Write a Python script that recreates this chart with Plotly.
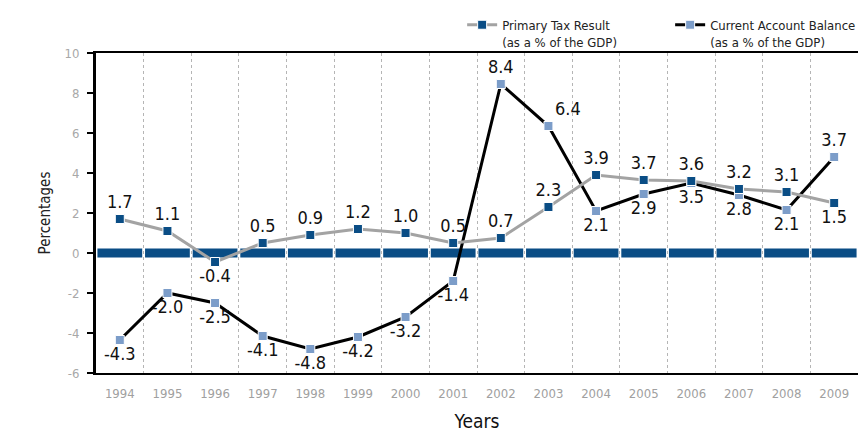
import plotly.graph_objects as go

years = [str(y) for y in range(1994, 2010)]
primary_vals = [1.7, 1.1, -0.45, 0.5, 0.9, 1.2, 1.0, 0.5, 0.75, 2.3, 3.9, 3.65, 3.6, 3.2, 3.05, 2.5]
primary_text = ["1.7", "1.1", "-0.4", "0.5", "0.9", "1.2", "1.0", "0.5", "0.7", "2.3", "3.9", "3.7", "3.6", "3.2", "3.1", "1.5"]
current_vals = [-4.35, -2.0, -2.5, -4.15, -4.8, -4.2, -3.2, -1.4, 8.45, 6.35, 2.1, 2.95, 3.5, 2.9, 2.15, 4.8]
current_text = ["-4.3", "-2.0", "-2.5", "-4.1", "-4.8", "-4.2", "-3.2", "-1.4", "8.4", "6.4", "2.1", "2.9", "3.5", "2.8", "2.1", "3.7"]
y_ticks = [-6, -4, -2, 0, 2, 4, 6, 8, 10]
y_tick_text = ["-6", "-4", "-2", "0", "2", "4", "6", "8", "10"]

primary_pos = ["top center"] * 16
primary_pos[2] = "bottom center"
primary_pos[15] = "bottom center"
current_pos = ["bottom center"] * 16
current_pos[8] = "top center"
current_pos[9] = "top right"
current_pos[15] = "top center"

FONT = "DejaVu Sans Condensed, Roboto, sans-serif"
DARK_BLUE = "#0a4d85"
LIGHT_BLUE = "#7c9dc9"

fig = go.Figure()

# zero reference band (segmented)
fig.add_trace(go.Bar(
    x=years, y=[0.45] * len(years), base=-0.225,
    marker=dict(color=DARK_BLUE, line=dict(width=0)),
    showlegend=False, hoverinfo="skip",
))

fig.add_trace(go.Scatter(
    x=years, y=current_vals, mode="lines+markers+text",
    name="Current Account Balance<br>(as a % of the GDP)",
    line=dict(color="black", width=3),
    marker=dict(symbol="square", size=9, color=LIGHT_BLUE, line=dict(color="white", width=1)),
    text=current_text, textposition=current_pos,
    textfont=dict(family=FONT, size=18, color="#111111"),
    legendrank=2,
))

fig.add_trace(go.Scatter(
    x=years, y=primary_vals, mode="lines+markers+text",
    name="Primary Tax Result<br>(as a % of the GDP)",
    line=dict(color="#a3a3a3", width=3),
    marker=dict(symbol="square", size=9, color=DARK_BLUE, line=dict(color="white", width=1)),
    text=primary_text, textposition=primary_pos,
    textfont=dict(family=FONT, size=18, color="#111111"),
    legendrank=1,
))

fig.update_layout(
    width=863, height=432,
    margin=dict(l=96, r=5, t=53, b=59, autoexpand=False),
    plot_bgcolor="white", paper_bgcolor="white",
    bargap=0.06,
    font=dict(family=FONT, color="#222222"),
    legend=dict(
        orientation="h", x=0.4805, xanchor="left", y=1.135, yanchor="top",
        valign="top",
        font=dict(family=FONT, size=13, color="#222222"),
        entrywidth=163, entrywidthmode="pixels",
        bgcolor="rgba(0,0,0,0)",
    ),
    xaxis=dict(
        type="category", tickson="boundaries", range=[-0.5, 15.5],
        showgrid=True, gridcolor="#b5b5b5", griddash="dot", gridwidth=1,
        showline=True, mirror=True, linecolor="black", linewidth=1.5,
        ticks="", tickangle=0, ticklabelstandoff=8,
        tickfont=dict(family=FONT, size=13, color="#a0a0a0"),
        title=dict(text="Years", font=dict(family=FONT, size=19, color="#111111"), standoff=24),
        zeroline=False,
    ),
    yaxis=dict(
        range=[-6, 10], tickvals=y_ticks, ticktext=y_tick_text,
        showgrid=False, zeroline=False,
        showline=True, linecolor="black", linewidth=3,
        ticks="outside", ticklen=6, tickwidth=2, tickcolor="black",
        ticklabelstandoff=5,
        tickfont=dict(family=FONT, size=13, color="#a8a8a8"),
        title=dict(text="Percentages", font=dict(family=FONT, size=15, color="#222222"), standoff=11),
    ),
)

fig.write_html("out.html", config={"displayModeBar": False},
               post_script="document.body.style.margin='0';")
